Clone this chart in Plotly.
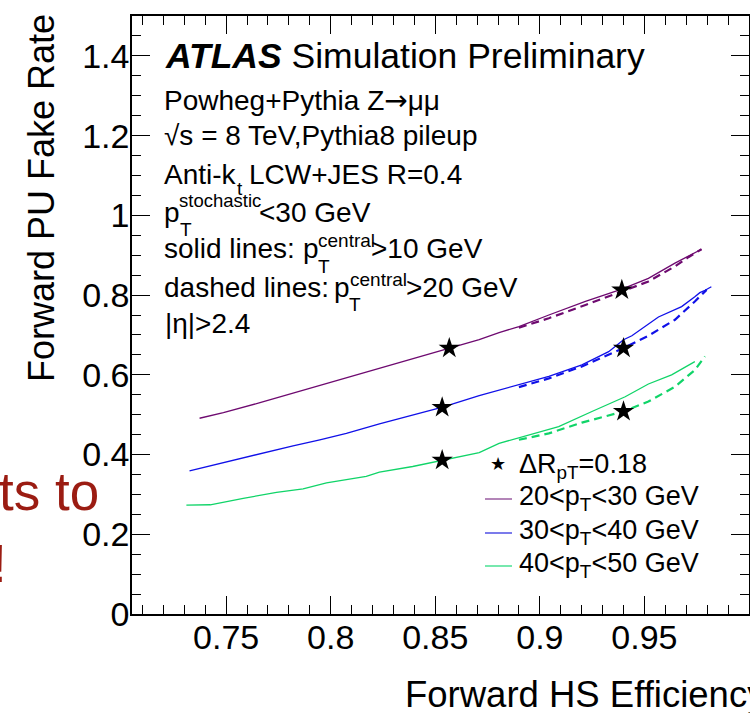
import plotly.graph_objects as go

# ---------------- data ----------------
purple_solid_x = [0.7373, 0.7487, 0.7662, 0.7820, 0.7948, 0.8138, 0.8297, 0.8456, 0.8567, 0.8710,
                  0.8805, 0.8900, 0.9043, 0.9218, 0.9392, 0.9519, 0.9646, 0.9718, 0.9773]
purple_solid_y = [0.491, 0.505, 0.530, 0.554, 0.572, 0.601, 0.625, 0.649, 0.667, 0.688,
                  0.706, 0.721, 0.750, 0.784, 0.815, 0.842, 0.880, 0.901, 0.915]
purple_dash_x = [0.8900, 0.9043, 0.9218, 0.9392, 0.9519, 0.9646, 0.9710, 0.9773]
purple_dash_y = [0.718, 0.742, 0.775, 0.809, 0.834, 0.872, 0.895, 0.915]

blue_solid_x = [0.7325, 0.7503, 0.7662, 0.7820, 0.7948, 0.8075, 0.8233, 0.8392, 0.8535, 0.8710,
                0.8805, 0.8900, 0.9043, 0.9201, 0.9329, 0.9400, 0.9440, 0.9567, 0.9678, 0.9741,
                0.9765, 0.9790, 0.9820]
blue_solid_y = [0.359, 0.382, 0.401, 0.422, 0.437, 0.453, 0.477, 0.499, 0.519, 0.548,
                0.562, 0.575, 0.596, 0.625, 0.658, 0.688, 0.698, 0.745, 0.771, 0.796,
                0.806, 0.812, 0.821]
blue_dash_x = [0.8900, 0.9043, 0.9201, 0.9400, 0.9519, 0.9646, 0.9741, 0.9797]
blue_dash_y = [0.569, 0.591, 0.621, 0.667, 0.698, 0.738, 0.784, 0.813]

green_solid_x = [0.7310, 0.7424, 0.7582, 0.7741, 0.7868, 0.7980, 0.8170, 0.8233, 0.8392, 0.8535,
                 0.8710, 0.8805, 0.8932, 0.9090, 0.9249, 0.9408, 0.9519, 0.9630, 0.9741]
green_solid_y = [0.273, 0.274, 0.290, 0.305, 0.314, 0.329, 0.345, 0.356, 0.370, 0.386,
                 0.405, 0.428, 0.447, 0.470, 0.508, 0.545, 0.577, 0.600, 0.633]
green_dash_x = [0.8900, 0.9043, 0.9201, 0.9400, 0.9519, 0.9646, 0.9741, 0.9789]
green_dash_y = [0.437, 0.453, 0.480, 0.508, 0.533, 0.570, 0.612, 0.646]

star_x = [0.8567, 0.8533, 0.8533, 0.9392, 0.9400, 0.9400]
star_y = [0.667, 0.518, 0.386, 0.813, 0.667, 0.508]

x_tickvals = [0.75, 0.8, 0.85, 0.9, 0.95, 1.0]
x_ticktext = ["0.75", "0.8", "0.85", "0.9", "0.95", "1"]
y_tickvals = [0, 0.2, 0.4, 0.6, 0.8, 1.0, 1.2, 1.4]
y_ticktext = ["0", "0.2", "0.4", "0.6", "0.8", "1", "1.2", "1.4"]

legend_labels = ["20&lt;p<sub>T</sub>&lt;30 GeV", "30&lt;p<sub>T</sub>&lt;40 GeV", "40&lt;p<sub>T</sub>&lt;50 GeV"]
star_label = "ΔR<sub>pT</sub>=0.18"

# ---------------- style ----------------
PURPLE = "#6e0a70"
BLUE = "#1010e8"
GREEN = "#10d468"
LEG_COLORS = ["#a066a6", "#5a5ae6", "#55e29a"]
FONT = "Liberation Sans, Arial, Helvetica, sans-serif"
W, H = 750, 713
L, R, T, B = 132, 749, 16, 614
BODY = 28
SMALL = 19


def px(x):
    return (x - L) / (R - L)


def py(y):
    return (B - y) / (B - T)


fig = go.Figure()
for xs, ys, col in [(purple_solid_x, purple_solid_y, PURPLE),
                    (blue_solid_x, blue_solid_y, BLUE),
                    (green_solid_x, green_solid_y, GREEN)]:
    fig.add_trace(go.Scatter(x=xs, y=ys, mode="lines",
                             line=dict(color=col, width=1.3), showlegend=False))
for xs, ys, col in [(purple_dash_x, purple_dash_y, PURPLE),
                    (blue_dash_x, blue_dash_y, BLUE),
                    (green_dash_x, green_dash_y, GREEN)]:
    fig.add_trace(go.Scatter(x=xs, y=ys, mode="lines",
                             line=dict(color=col, width=2.2, dash="8px,5px"), showlegend=False))
fig.add_trace(go.Scatter(x=star_x, y=star_y, mode="markers",
                         marker=dict(symbol="star", size=16, color="black", line=dict(width=0)),
                         showlegend=False))

annotations = []


def txt(text, x, y, size, xanchor="left", yanchor="middle", color="black", angle=0):
    annotations.append(dict(text=text, x=px(x), y=py(y), xref="paper", yref="paper",
                            xanchor=xanchor, yanchor=yanchor, showarrow=False,
                            textangle=angle, borderpad=0,
                            font=dict(family=FONT, size=size, color=color)))


# ATLAS label block
txt("<b><i>ATLAS</i></b> Simulation Preliminary", 164, 56, 35.5)
txt("Powheg+Pythia Z<span style='font-family:DejaVu Sans'>→</span>μμ", 163, 100, BODY)
txt("√s = 8 TeV,Pythia8 pileup", 163, 135, BODY)
txt("Anti-k", 163, 174.5, BODY)
txt("t", 236, 188, SMALL)
txt("LCW+JES R=0.4", 248, 174.5, BODY)
# p_T^stochastic
txt("p", 163, 212, BODY)
txt("stochastic", 178, 200, 18.5)
txt("T", 179, 229, SMALL)
txt("&lt;30 GeV", 258, 212, BODY)
# solid lines
txt("solid lines:", 163, 249, BODY)
txt("p", 302, 249, BODY)
txt("central", 317, 241, SMALL)
txt("T", 317, 266, SMALL)
txt("&gt;10 GeV", 370, 249, BODY)
# dashed lines
txt("dashed lines:", 163, 287, BODY)
txt("p", 333, 287, BODY)
txt("central", 349, 279, SMALL)
txt("T", 348, 304, SMALL)
txt("&gt;20 GeV", 405, 287, BODY)
txt("|η|&gt;2.4", 164, 323, BODY)

# legend
txt("★", 498, 464, 18, xanchor="center")
txt(star_label, 518, 466, 27)
leg_y = [499, 533, 566]
shapes = []
for lab, yy, col in zip(legend_labels, leg_y, LEG_COLORS):
    txt(lab, 518, yy - 1, 27, yanchor="middle")
    shapes.append(dict(type="line", xref="paper", yref="paper", x0=px(485), x1=px(512),
                       y0=py(yy), y1=py(yy), line=dict(color=col, width=1.6)))

# axis titles
txt("Forward HS Efficiency", 404, 694, 36.5)
txt("Forward PU Fake Rate", 42, 13, 36, xanchor="center", yanchor="top", angle=-90)

# slide text fragments
txt("ts to", 100, 491, 53, xanchor="right", color="#9b1c12")
txt("!", 8, 563, 53, xanchor="right", color="#9b1c12")

axis_common = dict(showgrid=False, zeroline=False, showline=True, linecolor="black", linewidth=1.6,
                   mirror="ticks", ticks="inside", ticklen=18, tickwidth=1.3, tickcolor="black",
                   tickfont=dict(family=FONT, size=34, color="black"))

fig.update_layout(
    width=W, height=H,
    margin=dict(l=L, r=W - R, t=T, b=H - B, autoexpand=False),
    paper_bgcolor="white", plot_bgcolor="white",
    xaxis=dict(range=[0.705, 1.0], tickmode="array", tickvals=x_tickvals, ticktext=x_ticktext,
               ticklabelstandoff=-8,
               minor=dict(tickmode="linear", tick0=0.70, dtick=0.01, ticks="inside", ticklen=9,
                          tickwidth=1.2, tickcolor="black"),
               **axis_common),
    yaxis=dict(range=[0, 1.5], tickmode="array", tickvals=y_tickvals, ticktext=y_ticktext,
               ticklabelstandoff=-6,
               minor=dict(tickmode="linear", tick0=0, dtick=0.05, ticks="inside", ticklen=9,
                          tickwidth=1.2, tickcolor="black"),
               **axis_common),
    annotations=annotations,
    shapes=shapes,
    showlegend=False,
)

fig.write_html("out.html")
